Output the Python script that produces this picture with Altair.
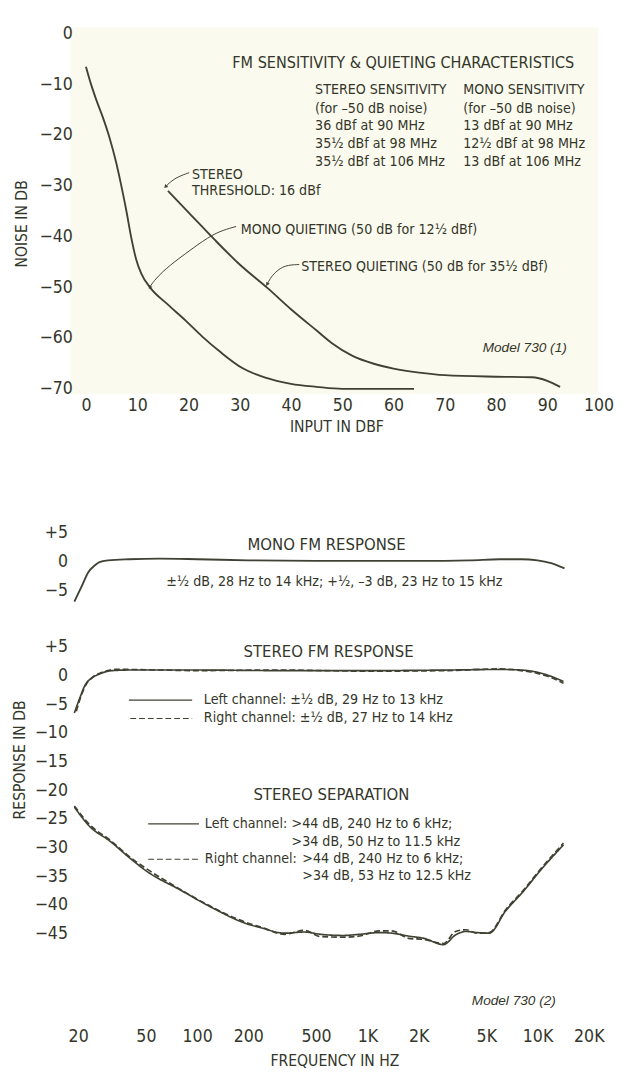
import altair as alt
import pandas as pd

FONT = "Liberation Sans Narrow, DejaVu Sans Condensed, Roboto Condensed, Liberation Sans, sans-serif"
ITAL = "Liberation Sans, Arial, sans-serif"
INK = "#34362a"
LINE = "#3f4233"
TINT = "#fbfaee"
W = "normal"

# ---------------- Panel 1: FM sensitivity & quieting ----------------
input_ticks = [0, 10, 20, 30, 40, 50, 60, 70, 80, 90, 100]
noise_ticks = [0, -10, -20, -30, -40, -50, -60, -70]

mono_input = [0, 1, 2, 3.3, 4.6, 5.8, 6.8, 7.9, 8.8, 9.8, 10.8, 12.5, 16, 19.5, 22.7, 26.3, 30.5, 35, 40, 45, 50, 64]
mono_noise = [-6.5, -10, -13, -16.5, -20.5, -25, -29.5, -35, -40, -44.5, -47.3, -50, -53.4, -56.6, -59.7, -62.8, -65.9, -67.8, -69, -69.6, -70, -70]

stereo_input = [16, 20, 25, 30, 35.5, 40, 45, 48, 52, 56, 60, 65, 70, 80, 87, 90, 92.5]
stereo_noise = [-31, -35.2, -40.5, -45.5, -50.2, -54.3, -58.5, -61, -63.5, -65, -66, -66.8, -67.3, -67.6, -67.7, -68.4, -69.6]

# leader lines (input dBf, noise dB)
lead_thr_x = [20.15, 17.9, 16.35, 15.6]
lead_thr_y = [-27.4, -28.2, -29.3, -30.1]
lead_mono_x = [29.3, 26.8, 24.1, 19.2, 15.4, 13.1, 12.5]
lead_mono_y = [-38.0, -38.7, -39.9, -43.5, -46.4, -48.9, -49.9]
lead_st_x = [41.6, 38.8, 36.9, 35.9, 35.4]
lead_st_y = [-45.5, -45.6, -47.0, -48.3, -49.3]
arrow_angles = [225, 211, 211]

title1 = "FM SENSITIVITY & QUIETING CHARACTERISTICS"
stereo_col = ["STEREO SENSITIVITY", "(for \u201350 dB noise)", "36 dBf at 90 MHz",
              "35\u00bd dBf at 98 MHz", "35\u00bd dBf at 106 MHz"]
mono_col = ["MONO SENSITIVITY", "(for \u201350 dB noise)", "13 dBf at 90 MHz",
            "12\u00bd dBf at 98 MHz", "13 dBf at 106 MHz"]
col_rows_db = [-11.1, -14.8, -18.2, -21.7, -25.3]

# ---------------- Panels 2/3: FM response & separation ----------------
freq_ticks = [20, 50, 100, 200, 500, 1000, 2000, 5000, 10000, 20000]
mono_resp_ticks = [5, 0, -5]
stereo_resp_ticks = [5, 0, -5, -10, -15, -20, -25, -30, -35, -40, -45]

mono_fm_freq = [19, 21, 22.9, 25, 26.7, 30, 40, 60, 100, 200, 500, 1000, 2000, 4000, 6000, 8000, 10000, 12000, 14400]
mono_fm_db = [-7.0, -4.3, -1.9, -0.7, -0.1, 0.2, 0.4, 0.5, 0.4, 0.2, 0.1, 0.1, 0.1, 0.2, 0.4, 0.4, 0.2, -0.3, -1.2]

st_left_freq = [19, 20.5, 22, 24, 26.7, 29, 32, 40, 60, 100, 300, 1000, 3000, 6000, 8000, 10000, 12000, 14200]
st_left_db = [-6.5, -3.8, -1.6, -0.4, 0.3, 0.7, 0.9, 1.0, 1.0, 1.0, 0.9, 0.9, 1.0, 1.1, 1.0, 0.6, -0.1, -1.0]
st_right_freq = [19.5, 21, 22.5, 24.5, 27, 30, 33, 40, 60, 100, 300, 1000, 3000, 6000, 8000, 10000, 12000, 14200]
st_right_db = [-6.2, -3.2, -1.3, -0.2, 0.5, 0.9, 1.1, 1.1, 1.0, 0.9, 1.0, 0.8, 0.9, 1.2, 0.9, 0.4, -0.3, -1.3]

sep_freq = [19, 23.4, 30.6, 41, 50, 80, 125, 193, 240, 326, 426, 532, 721, 900, 1175, 1393, 1742, 2153, 2800, 3300, 3800, 4400, 5200, 6500, 8200, 10500, 14200]
sep_left = [-22.9, -26.3, -28.8, -32, -34.0, -37.4, -40.6, -43.2, -44, -44.9, -44.7, -45.1, -45.3, -45.1, -44.8, -44.9, -45.4, -45.8, -46.9, -45.2, -44.6, -44.8, -44.9, -41, -37.7, -33.8, -29.5]
sep_right = [-22.7, -26.0, -28.6, -31.8, -33.6, -37.3, -40.5, -43.0, -43.9, -45.1, -44.4, -45.5, -45.6, -45.4, -44.5, -44.5, -45.8, -46.0, -46.7, -44.6, -44.3, -44.9, -44.8, -40.8, -37.5, -33.6, -29.2]

SIGNED = "datum.value > 0 ? '+' + datum.value : (datum.value < 0 ? '\u2212' + abs(datum.value) : '0')"

# ---------------- scales / axes ----------------
xs_top = alt.Scale(domain=[-3.04, 100], nice=False, zero=False)
ys_top = alt.Scale(domain=[-71, 1.2], nice=False, zero=False)
xs_f = alt.Scale(type="log", domain=[18, 20000], nice=False)
ys_mono = alt.Scale(domain=[-8, 24.3], nice=False, zero=False)
ys_st = alt.Scale(domain=[-61.5, 7], nice=False, zero=False)

ax_top_x = alt.Axis(values=input_ticks, title="INPUT IN DBF", labelPadding=3,
                    titleX=273, titleY=34, titleBaseline="middle")
ax_top_y = alt.Axis(values=noise_ticks, labelExpr=SIGNED, title="NOISE IN DB", labelPadding=-2,
                    titleX=-50, titleY=201, titleAngle=270, titleBaseline="middle", titleAlign="center")
ax_mono_y = alt.Axis(values=mono_resp_ticks, labelExpr=SIGNED, title=None, labelPadding=3)
ax_st_y = alt.Axis(values=stereo_resp_ticks, labelExpr=SIGNED, title="RESPONSE IN DB", labelPadding=3,
                   titleX=-52, titleY=127, titleAngle=270, titleBaseline="middle", titleAlign="center")
ax_freq = alt.Axis(values=freq_ticks,
                   labelExpr="datum.value >= 1000 ? (datum.value / 1000) + 'K' : '' + datum.value",
                   title="FREQUENCY IN HZ", labelPadding=0, titleX=271, titleY=33, titleBaseline="middle")

X1 = alt.X("x:Q", scale=xs_top, axis=ax_top_x)
Y1 = alt.Y("y:Q", scale=ys_top, axis=ax_top_y)
X2 = alt.X("x:Q", scale=xs_f, axis=None)
Y2 = alt.Y("y:Q", scale=ys_mono, axis=ax_mono_y)
X3 = alt.X("x:Q", scale=xs_f, axis=ax_freq)
Y3 = alt.Y("y:Q", scale=ys_st, axis=ax_st_y)

DASH = alt.StrokeDash("d:N", scale=alt.Scale(domain=["solid", "dashed"], range=[[1, 0], [6, 3]]), legend=None)


def texts(df, X, Y, size, align="left", font=FONT, style="normal", weight=W):
    return alt.Chart(df).mark_text(align=align, baseline="middle", font=font, fontSize=size,
                                   fontStyle=style, fontWeight=weight, color=INK).encode(x=X, y=Y, text="t:N")


# ---------------- panel 1 ----------------
df_q = pd.DataFrame({
    "x": mono_input + stereo_input,
    "y": mono_noise + stereo_noise,
    "s": ["mono"] * len(mono_input) + ["stereo"] * len(stereo_input),
})
curves1 = alt.Chart(df_q).mark_line(color=LINE, strokeWidth=1.9, interpolate="monotone").encode(
    x=X1, y=Y1, detail="s:N")

lead_rows = []
for g, xs, ys in [("thr", lead_thr_x, lead_thr_y), ("mono", lead_mono_x, lead_mono_y), ("st", lead_st_x, lead_st_y)]:
    for i, (a, b) in enumerate(zip(xs, ys)):
        lead_rows.append({"x": a, "y": b, "g": g, "i": i})
df_lead = pd.DataFrame(lead_rows)
leaders = alt.Chart(df_lead).mark_line(color=LINE, strokeWidth=1, interpolate="basis").encode(
    x=X1, y=Y1, detail="g:N", order="i:Q")
df_arrow = pd.DataFrame({"x": [lead_thr_x[-1], lead_mono_x[-1], lead_st_x[-1]],
                         "y": [lead_thr_y[-1], lead_mono_y[-1], lead_st_y[-1]],
                         "a": arrow_angles})
arrows = alt.Chart(df_arrow).mark_point(shape="triangle", filled=True, size=18, color=LINE, opacity=1).encode(
    x=X1, y=Y1, angle=alt.Angle("a:Q", scale=None))

t_title1 = texts(pd.DataFrame({"x": [61.9], "y": [-5.75], "t": [title1]}), X1, Y1, 16.5, align="center")
t_cols = texts(pd.DataFrame({"x": [44.7] * 5 + [73.6] * 5, "y": col_rows_db * 2, "t": stereo_col + mono_col}),
               X1, Y1, 14.5)
t_notes = texts(pd.DataFrame({
    "x": [20.7, 20.7, 30.2, 42.0],
    "y": [-27.8, -31.1, -38.7, -46.0],
    "t": ["STEREO", "THRESHOLD: 16 dBf", "MONO QUIETING (50 dB for 12\u00bd dBf)",
          "STEREO QUIETING (50 dB for 35\u00bd dBf)"]}), X1, Y1, 14.5)
t_model1 = texts(pd.DataFrame({"x": [77.4], "y": [-62.0], "t": ["Model  730  (1)"]}), X1, Y1, 14,
                 font=ITAL, style="italic")

top = alt.layer(curves1, leaders, arrows, t_title1, t_cols, t_notes, t_model1).properties(
    width=542, height=376, view=alt.ViewBackground(fill=TINT, strokeWidth=0))

# ---------------- panel 2: mono FM response ----------------
df_mono = pd.DataFrame({"x": mono_fm_freq, "y": mono_fm_db})
mono_line = alt.Chart(df_mono).mark_line(color=LINE, strokeWidth=1.9, interpolate="monotone").encode(x=X2, y=Y2)
t_mono = texts(pd.DataFrame({"x": [576], "y": [2.9], "t": ["MONO FM RESPONSE"]}), X2, Y2, 17, align="center")
t_mono2 = texts(pd.DataFrame({"x": [640], "y": [-3.56],
                              "t": ["\u00b1\u00bd dB, 28 Hz to 14 kHz; +\u00bd, \u20133 dB, 23 Hz to 15 kHz"]}),
                X2, Y2, 14.5, align="center")
mono = alt.layer(mono_line, t_mono, t_mono2).properties(width=532, height=190)

# ---------------- panel 3: stereo FM response & separation ----------------
rows = []
for s, d, fx, fy in [("fmL", "solid", st_left_freq, st_left_db), ("fmR", "dashed", st_right_freq, st_right_db),
                     ("sepL", "solid", sep_freq, sep_left), ("sepR", "dashed", sep_freq, sep_right)]:
    for a, b in zip(fx, fy):
        rows.append({"x": a, "y": b, "s": s, "d": d})
df_st = pd.DataFrame(rows)
st_lines = alt.Chart(df_st).mark_line(color=LINE, strokeWidth=1.7, interpolate="monotone").encode(
    x=X3, y=Y3, detail="s:N", strokeDash=DASH)

df_key = pd.DataFrame({
    "x": [39.7, 93.5, 40.5, 93.5, 51.6, 102.5, 51.6, 102.5],
    "y": [-4.25, -4.25, -7.45, -7.45, -25.85, -25.85, -32.0, -32.0],
    "s": ["k1", "k1", "k2", "k2", "k3", "k3", "k4", "k4"],
    "d": ["solid", "solid", "dashed", "dashed", "solid", "solid", "dashed", "dashed"],
})
keys = alt.Chart(df_key).mark_line(color=LINE, strokeWidth=1.2).encode(x=X3, y=Y3, detail="s:N", strokeDash=DASH)

t_st_titles = texts(pd.DataFrame({"x": [592, 615], "y": [4.1, -20.9],
                                  "t": ["STEREO FM RESPONSE", "STEREO SEPARATION"]}), X3, Y3, 17, align="center")
t_st_notes = texts(pd.DataFrame({
    "x": [109.5, 109.5, 111, 358.5, 358.5, 111, 415, 415],
    "y": [-4.25, -7.3, -25.85, -25.85, -29.1, -32.0, -32.0, -35.0],
    "t": ["Left channel: \u00b1\u00bd dB, 29 Hz to 13 kHz", "Right channel: \u00b1\u00bd dB, 27 Hz to 14 kHz",
          "Left channel:", ">44 dB, 240 Hz to 6 kHz;", ">34 dB, 50 Hz to 11.5 kHz",
          "Right channel:", ">44 dB, 240 Hz to 6 kHz;", ">34 dB, 53 Hz to 12.5 kHz"]}), X3, Y3, 14.5)
t_model2 = texts(pd.DataFrame({"x": [4108], "y": [-56.8], "t": ["Model  730  (2)"]}), X3, Y3, 14,
                 font=ITAL, style="italic")

stereo = alt.layer(st_lines, keys, t_st_titles, t_st_notes, t_model2).properties(width=532, height=403)

chart = alt.vconcat(top, mono, stereo, spacing=29, bounds="flush").properties(
    padding={"left": 4, "top": 3, "right": 5, "bottom": 0}, background="white"
).configure_view(strokeWidth=0).configure_axis(
    domain=False, ticks=False, grid=False, labelFlush=False, labelOverlap=False,
    labelFont=FONT, labelFontSize=18, labelColor=INK, labelFontWeight=W,
    titleFont=FONT, titleFontSize=16, titleColor=INK, titleFontWeight=W,
)

chart.save("out.html", embed_options={"renderer": "svg", "actions": False})
